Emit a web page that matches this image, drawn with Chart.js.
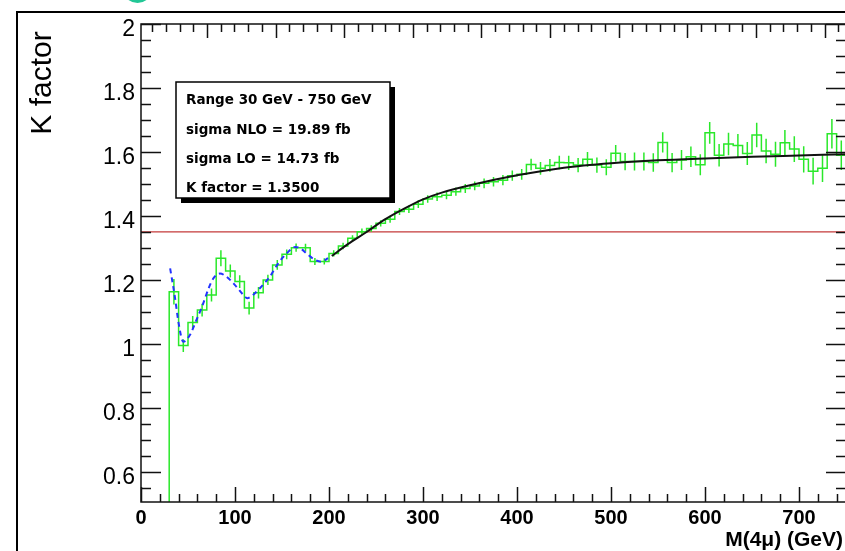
<!DOCTYPE html>
<html><head><meta charset="utf-8">
<script src="https://cdn.jsdelivr.net/npm/chart.js@4.4.1/dist/chart.umd.min.js"></script>
<style>
html,body{margin:0;padding:0;overflow:hidden;background:#fff;width:845px;height:551px}
#wrap{position:absolute;left:0;top:0;width:850px;height:551px}
</style>
</head><body><div id="wrap"><canvas id="c" width="850" height="551"></canvas></div>
<script>
// ---- data ----
const binLowEdges = [30,40,50,60,70,80,90,100,110,120,130,140,150,160,170,180,190,200,210,220,230,240,250,260,270,280,290,300,310,320,330,340,350,360,370,380,390,400,410,420,430,440,450,460,470,480,490,500,510,520,530,540,550,560,570,580,590,600,610,620,630,640,650,660,670,680,690,700,710,720,730,740];
const kFactor = [1.163,0.995,1.067,1.106,1.153,1.268,1.228,1.195,1.112,1.160,1.200,1.247,1.280,1.301,1.301,1.258,1.258,1.283,1.306,1.330,1.351,1.361,1.377,1.390,1.414,1.421,1.437,1.453,1.460,1.465,1.476,1.486,1.494,1.502,1.507,1.512,1.526,1.530,1.561,1.549,1.558,1.567,1.566,1.559,1.577,1.559,1.552,1.596,1.570,1.570,1.570,1.567,1.630,1.567,1.575,1.585,1.560,1.660,1.590,1.625,1.620,1.595,1.653,1.603,1.593,1.629,1.609,1.577,1.540,1.549,1.657,1.590];
const kError = [0.040,0.020,0.020,0.020,0.020,0.025,0.020,0.020,0.020,0.018,0.016,0.015,0.015,0.013,0.012,0.011,0.010,0.010,0.010,0.010,0.010,0.010,0.010,0.011,0.011,0.012,0.012,0.012,0.013,0.013,0.013,0.014,0.014,0.015,0.015,0.016,0.016,0.017,0.018,0.020,0.020,0.021,0.022,0.022,0.023,0.024,0.025,0.026,0.027,0.028,0.028,0.029,0.032,0.030,0.031,0.032,0.033,0.034,0.035,0.035,0.036,0.036,0.038,0.038,0.039,0.040,0.040,0.041,0.042,0.043,0.046,0.046];
const binWidth = 10;
const lowFitMass = [31,36,40,45,52,59,65,72,77,84,91,100,109,113,121,128,137,146,155,164,170,176,185,192,199];
const lowFitK    = [1.236,1.148,1.065,1.007,1.028,1.075,1.117,1.174,1.205,1.220,1.210,1.184,1.153,1.143,1.158,1.179,1.210,1.252,1.283,1.303,1.298,1.283,1.263,1.257,1.268];
const highFitMass = [203,220,240,260,280,300,320,350,400,450,500,550,600,650,700,750];
const highFitK    = [1.275,1.312,1.350,1.390,1.423,1.452,1.473,1.496,1.527,1.551,1.565,1.574,1.580,1.585,1.589,1.593];
const averageK = 1.35;
const xTickValues = [0,100,200,300,400,500,600,700];
const yTickValues = [0.6,0.8,1.0,1.2,1.4,1.6,1.8,2.0];
const legendLines = ["Range 30 GeV - 750 GeV","sigma NLO = 19.89 fb","sigma LO = 14.73 fb","K factor = 1.3500"];
const xTitle = "M(4\u03bc) (GeV)";
const yTitle = "K factor";

// ---- build datasets ----
const histPts = [{x: binLowEdges[0], y: 0.3}];
binLowEdges.forEach((b, i) => histPts.push({x: b, y: kFactor[i]}));
histPts.push({x: binLowEdges[binLowEdges.length - 1] + binWidth, y: kFactor[kFactor.length - 1]});

const errPts = [];
binLowEdges.forEach((b, i) => {
  const c = b + binWidth / 2;
  errPts.push({x: c, y: kFactor[i] - kError[i]}, {x: c, y: kFactor[i] + kError[i]}, {x: c, y: null});
});

const GREEN = '#2ae82a';
const decor = {
  id: 'decor',
  afterDraw(chart) {
    const {ctx, chartArea: a, scales: {x, y}} = chart;
    ctx.save();
    // outer pad frame
    ctx.strokeStyle = '#000'; ctx.lineWidth = 2;
    ctx.beginPath(); ctx.moveTo(17, 560); ctx.lineTo(17, 12); ctx.lineTo(860, 12); ctx.stroke();
    // teal logo arc
    ctx.fillStyle = '#22c796';
    ctx.beginPath(); ctx.arc(137.5, -12, 15, 0, Math.PI * 2); ctx.fill();
    // plot frame
    ctx.strokeStyle = '#111'; ctx.lineWidth = 1.5;
    ctx.strokeRect(a.left, a.top, a.right - a.left, a.bottom - a.top);
    ctx.beginPath();
    // y ticks (left and right, inward)
    for (let i = 11; i <= 40; i++) {
      const v = i * 0.05; const py = Math.round(y.getPixelForValue(v)) + 0.5;
      if (py > a.bottom - 1) continue;
      const L = (i % 4 === 0) ? 20 : 10;
      ctx.moveTo(a.left, py); ctx.lineTo(a.left + L, py);
      ctx.moveTo(a.right, py); ctx.lineTo(a.right - L, py);
    }
    // bottom x ticks
    for (let i = 0; i <= 37; i++) {
      const px = Math.round(x.getPixelForValue(i * 20)) + 0.5;
      const L = (i % 5 === 0) ? 15 : 8;
      ctx.moveTo(px, a.bottom); ctx.lineTo(px, a.bottom - L);
    }
    // top x ticks
    const t0 = 70.2, ts = 73.0;
    for (let j = -5; j <= 60; j++) {
      const v = t0 + j * ts / 5; if (v <= 1 || v >= 749) continue;
      const px = Math.round(x.getPixelForValue(v)) + 0.5;
      const L = (((j % 5) + 5) % 5 === 0) ? 14 : 8;
      ctx.moveTo(px, a.top); ctx.lineTo(px, a.top + L);
    }
    ctx.stroke();
    // legend box with shadow
    const bx = 176, by = 82, bw = 214, bh = 116, sh = 5;
    ctx.fillStyle = '#000';
    ctx.fillRect(bx + bw, by + sh, sh, bh);
    ctx.fillRect(bx + sh, by + bh, bw, sh);
    ctx.fillStyle = '#fff'; ctx.fillRect(bx, by, bw, bh);
    ctx.lineWidth = 1.5; ctx.strokeStyle = '#000'; ctx.strokeRect(bx, by, bw, bh);
    ctx.fillStyle = '#000';
    ctx.font = 'bold 13.5px "DejaVu Sans"';
    ctx.textAlign = 'left'; ctx.textBaseline = 'alphabetic';
    const base = [104, 133.5, 162.5, 191.7];
    legendLines.forEach((t, i) => ctx.fillText(t, 186, base[i]));
    // axis titles
    ctx.font = 'bold 21px "Liberation Sans"';
    ctx.textAlign = 'right';
    ctx.fillText(xTitle, 843, 546);
    ctx.save();
    ctx.translate(51, 83); ctx.rotate(-Math.PI / 2);
    ctx.font = '30px "Liberation Sans"'; ctx.textAlign = 'center';
    ctx.fillText(yTitle, 0, 0);
    ctx.restore();
    ctx.restore();
  }
};

new Chart(document.getElementById('c'), {
  type: 'line',
  data: {
    datasets: [
      {data: highFitMass.map((m, i) => ({x: m, y: highFitK[i]})), borderColor: '#111', borderWidth: 2, pointRadius: 0, cubicInterpolationMode: 'monotone', order: 0},
      {data: lowFitMass.map((m, i) => ({x: m, y: lowFitK[i]})), borderColor: '#2233ff', borderWidth: 2, borderDash: [5, 4], pointRadius: 0, cubicInterpolationMode: 'monotone', order: 1},
      {data: histPts, borderColor: GREEN, borderWidth: 1.5, pointRadius: 0, stepped: true, order: 2},
      {data: errPts, borderColor: GREEN, borderWidth: 1.5, pointRadius: 0, spanGaps: false, order: 3},
      {data: [{x: 0, y: averageK}, {x: 750, y: averageK}], borderColor: '#c43a3a', borderWidth: 1.3, pointRadius: 0, order: 4}
    ]
  },
  options: {
    responsive: false, animation: false, devicePixelRatio: 1,
    layout: {padding: {left: 0, top: 24, right: 4, bottom: 0}},
    plugins: {legend: {display: false}, tooltip: {enabled: false}},
    elements: {line: {fill: false, tension: 0}},
    scales: {
      x: {
        type: 'linear', min: 0, max: 750,
        grid: {display: false, drawTicks: false}, border: {display: false},
        afterBuildTicks: s => { s.ticks = xTickValues.map(v => ({value: v})); },
        afterFit: s => { s.height = 49; },
        ticks: {color: '#000', font: {family: 'Liberation Sans', weight: 'bold', size: 20}, padding: 4, maxRotation: 0, autoSkip: false, callback: v => String(v)}
      },
      y: {
        type: 'linear', min: 0.506, max: 2.0,
        grid: {display: false, drawTicks: false}, border: {display: false},
        afterBuildTicks: s => { s.ticks = yTickValues.map(v => ({value: v})); },
        afterFit: s => { s.width = 141; },
        ticks: {color: '#000', font: {family: 'Liberation Sans', size: 23}, padding: 6, labelOffset: 6, autoSkip: false, callback: v => String(Math.round(v * 10) / 10)}
      }
    }
  },
  plugins: [decor]
});
</script>
</body></html>
